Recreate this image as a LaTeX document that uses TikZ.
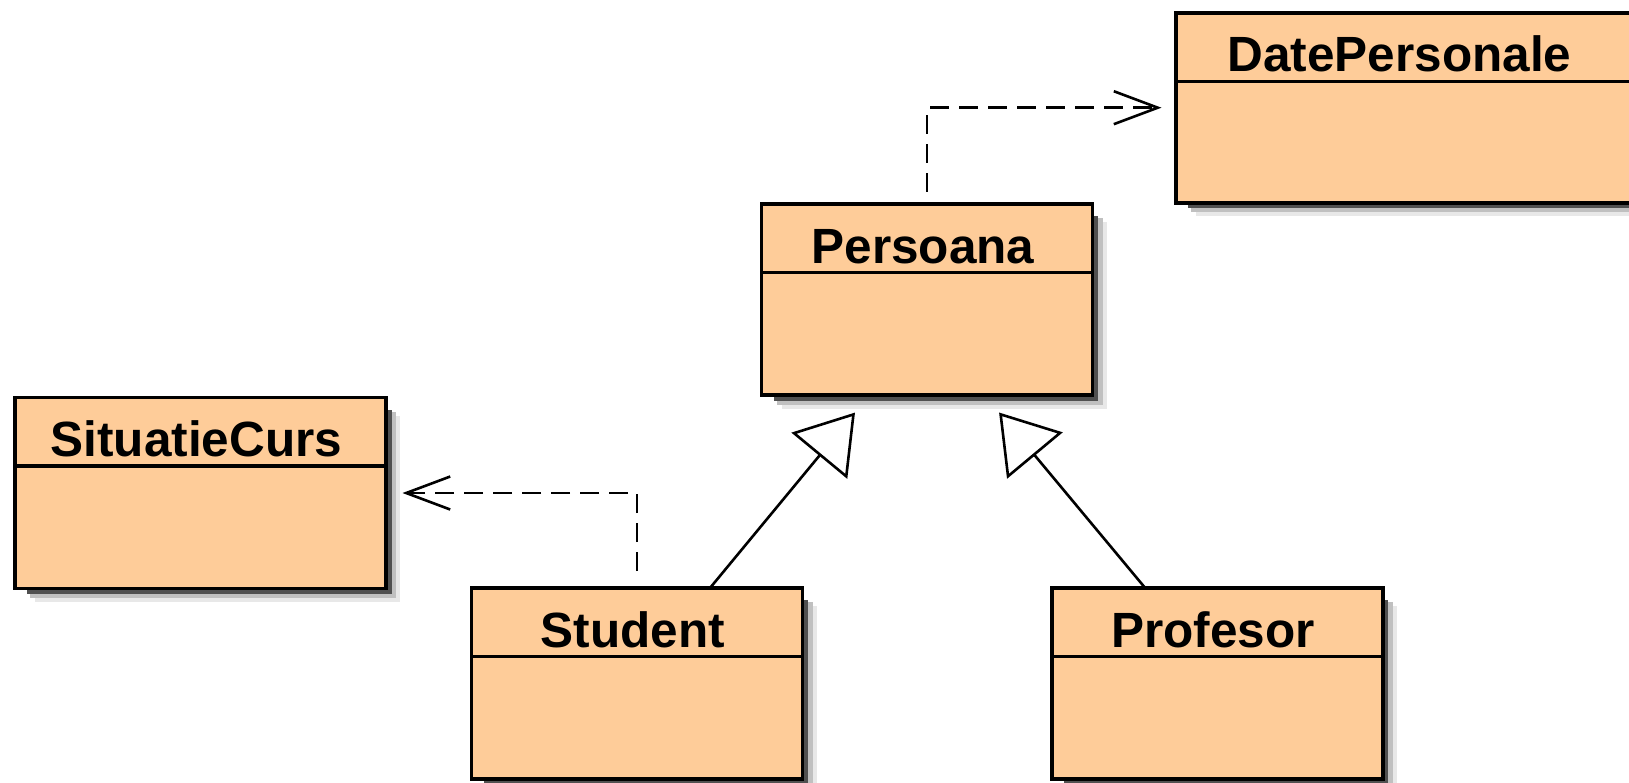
\documentclass[tikz,border=0pt]{standalone}
\usepackage{fontspec}
\setmainfont{Liberation Sans}
\usetikzlibrary{arrows.meta}
\definecolor{classfill}{RGB}{254,204,153}
\definecolor{shdark}{RGB}{80,80,80}
\definecolor{shmid}{RGB}{192,192,192}
\definecolor{shlight}{RGB}{232,232,232}
\pgfdeclarelayer{background}
\pgfsetlayers{background,main}
\newcommand\classshadow[1]{%
  \fill[shlight] ([shift={(20pt,-18pt)}]#1.north west) rectangle ([shift={(14pt,-13.5pt)}]#1.south east);
  \fill[shmid] ([shift={(15pt,-14pt)}]#1.north west) rectangle ([shift={(10pt,-9.5pt)}]#1.south east);
  \fill[shdark] ([shift={(12pt,-12pt)}]#1.north west) rectangle ([shift={(5.5pt,-5.5pt)}]#1.south east);
}
\newcommand\classdivider[1]{%
  \draw[divider] ([yshift=-68.5pt]#1.north west) -- ([yshift=-68.5pt]#1.north east);
}
\begin{document}
\begin{tikzpicture}[x=1pt,y=-1pt,
  umlbox/.style={draw=black, line width=3.6pt, fill=classfill, rectangle,
    inner sep=0pt, outer sep=0pt, minimum width=331pt, minimum height=191pt},
  umltitle/.style={anchor=base, inner sep=0pt,
    font=\bfseries\fontsize{49.5}{60}\selectfont},
  divider/.style={line width=3.4pt, black},
  depend/.style={line width=2.6pt, black, dash pattern=on 19pt off 10pt,
    -{Straight Barb[length=44pt,width=33pt]}},
  general/.style={line width=2.6pt, black,
    -{Triangle[open,length=56pt,width=72pt]}, shorten >=22.8pt}]
\useasboundingbox (0,0) rectangle (1629,782);
\clip (0,0) rectangle (1629,782);

% classes
\node[umlbox, minimum width=460pt, minimum height=190pt] (DP) at (1406,107.7) {};
\node[umlbox] (P) at (927,299.5) {};
\node[umlbox, minimum width=371pt] (SC) at (200.5,493) {};
\node[umlbox] (S) at (637,683.5) {};
\node[umlbox] (Pr) at (1217.2,683.5) {};

\begin{pgfonlayer}{background}
  \classshadow{DP}
  \classshadow{P}
  \classshadow{SC}
  \classshadow{S}
  \classshadow{Pr}
\end{pgfonlayer}

\classdivider{DP}
\classdivider{P}
\classdivider{SC}
\classdivider{S}
\classdivider{Pr}

\node[umltitle] (DPt) at ([xshift=-6.5pt,yshift=-59pt]DP.north) {DatePersonale};
\node[umltitle] (Pt) at ([xshift=-4pt,yshift=-59pt]P.north) {Persoana};
\node[umltitle] (SCt) at ([xshift=-4pt,yshift=-59pt]SC.north) {SituatieCurs};
\node[umltitle] (St) at ([xshift=-4pt,yshift=-59pt]S.north) {Student};
\node[umltitle] (Prt) at ([xshift=-4pt,yshift=-59pt]Pr.north) {Profesor};

% dependencies
\draw[depend, shorten >=14.5pt] ([yshift=12.5pt]P.north) |- (DP.west);
\draw[depend, shorten >=16.5pt] ([yshift=17pt]S.north) |- (SC.east);

% generalizations
\draw[general] ([xshift=73pt]S.north) -- ([xshift=-57.5pt]P.south);
\draw[general] ([xshift=-72pt]Pr.north) -- ([xshift=57.5pt]P.south);
\end{tikzpicture}
\end{document}
